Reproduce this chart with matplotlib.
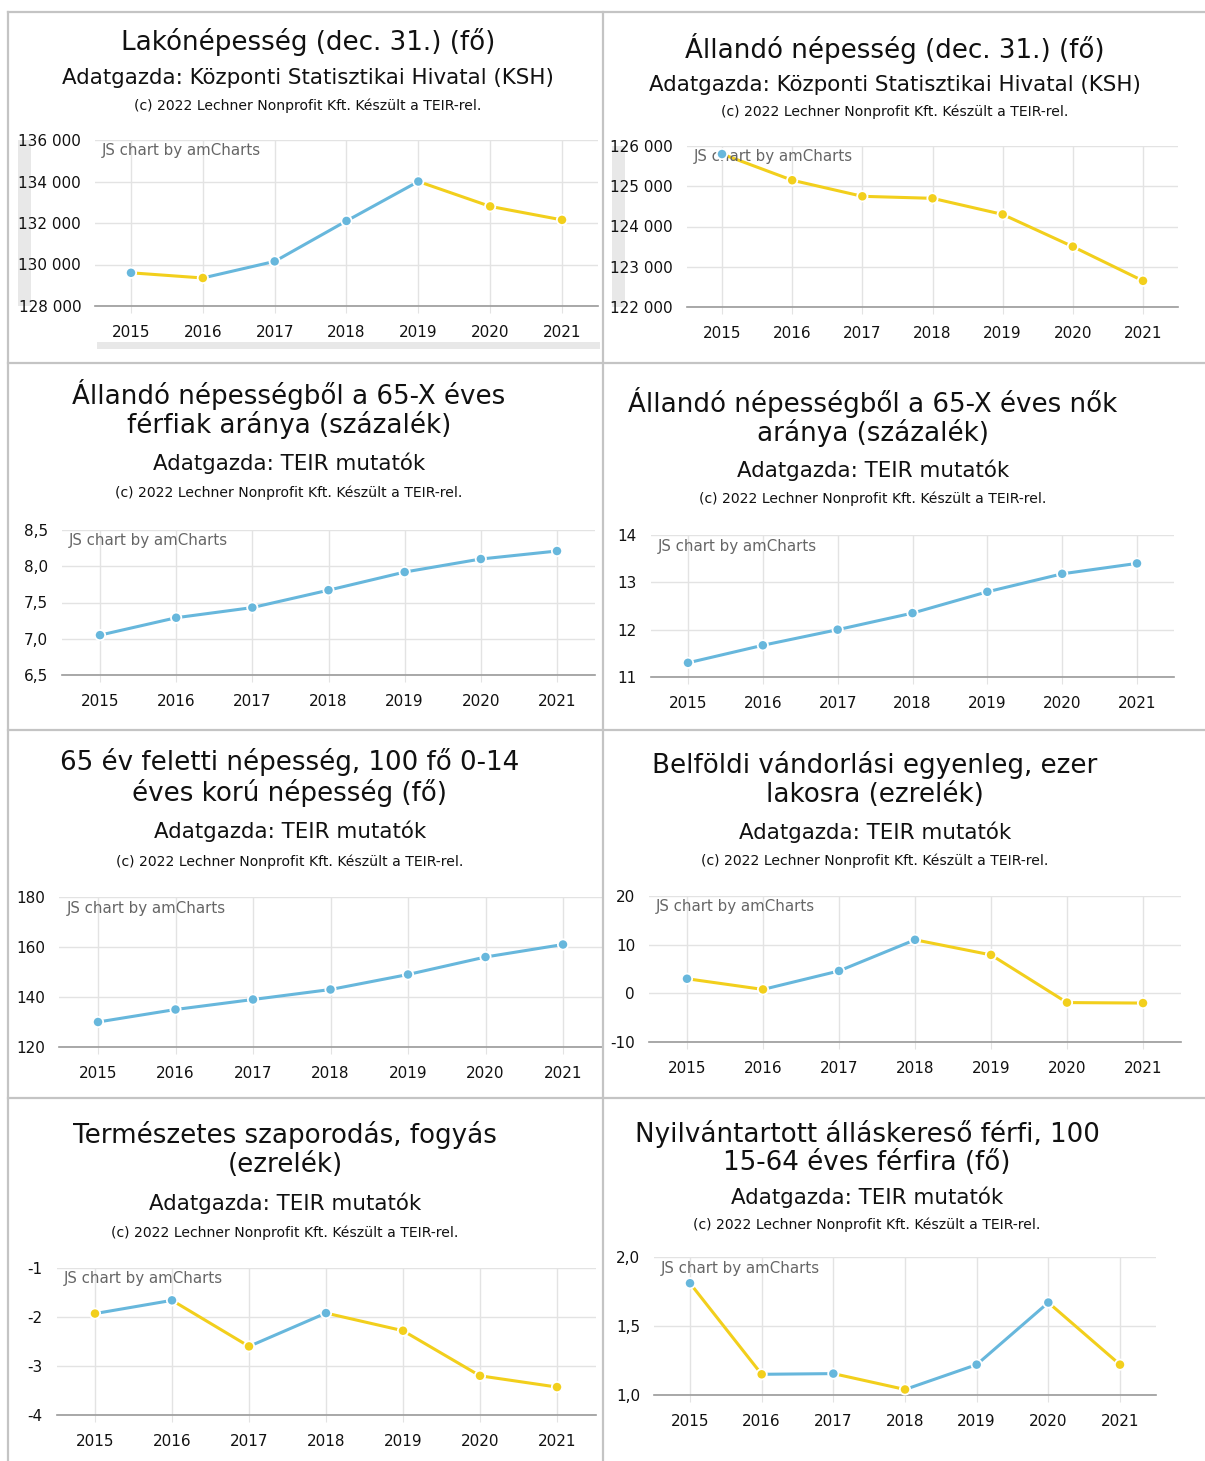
import matplotlib
matplotlib.use("Agg")
import matplotlib.pyplot as plt
from matplotlib.lines import Line2D
from matplotlib.patches import Rectangle

# Adatok
years = ["2015", "2016", "2017", "2018", "2019", "2020", "2021"]

titles = [
    ["Lakónépesség (dec. 31.) (fő)"],
    ["Állandó népesség (dec. 31.) (fő)"],
    ["Állandó népességből a 65-X éves", "férfiak aránya (százalék)"],
    ["Állandó népességből a 65-X éves nők", "aránya (százalék)"],
    ["65 év feletti népesség, 100 fő 0-14", "éves korú népesség (fő)"],
    ["Belföldi vándorlási egyenleg, ezer", "lakosra (ezrelék)"],
    ["Természetes szaporodás, fogyás", "(ezrelék)"],
    ["Nyilvántartott álláskereső férfi, 100", "15-64 éves férfira (fő)"],
]
sources = [
    "Adatgazda: Központi Statisztikai Hivatal (KSH)",
    "Adatgazda: Központi Statisztikai Hivatal (KSH)",
    "Adatgazda: TEIR mutatók",
    "Adatgazda: TEIR mutatók",
    "Adatgazda: TEIR mutatók",
    "Adatgazda: TEIR mutatók",
    "Adatgazda: TEIR mutatók",
    "Adatgazda: TEIR mutatók",
]
copyright_txt = "(c) 2022 Lechner Nonprofit Kft. Készült a TEIR-rel."

lakonepesseg = [129600, 129350, 130150, 132100, 134000, 132800, 132150]
allando_nepesseg = [125800, 125150, 124750, 124700, 124300, 123500, 122650]
ferfiak_65 = [7.05, 7.29, 7.43, 7.67, 7.92, 8.10, 8.21]
nok_65 = [11.30, 11.67, 12.00, 12.35, 12.80, 13.18, 13.40]
oregsegi_index = [130, 135, 139, 143, 149, 156, 161]
vandorlas = [3.0, 0.8, 4.6, 11.0, 7.9, -1.9, -2.0]
termeszetes = [-1.93, -1.66, -2.60, -1.92, -2.28, -3.20, -3.43]
allaskereso = [1.81, 1.15, 1.155, 1.04, 1.22, 1.67, 1.22]

series = [lakonepesseg, allando_nepesseg, ferfiak_65, nok_65,
          oregsegi_index, vandorlas, termeszetes, allaskereso]
# első pont iránya (az előző, nem látható évhez képest)
first_up = [True, True, True, True, True, True, False, True]
# y tengely: min, max, lépés, tizedesjegyek
y_axes = [
    (128000, 136000, 2000, 0),
    (122000, 126000, 1000, 0),
    (6.5, 8.5, 0.5, 1),
    (11, 14, 1, 0),
    (120, 180, 20, 0),
    (-10, 20, 10, 0),
    (-4, -1, 1, 0),
    (1.0, 2.0, 0.5, 1),
]

# Elrendezés pixelben
W, H = 1205, 1461
# x(2015), x(2021), y(max), y(min)
plot_px = [
    (131, 562, 140, 306),
    (722, 1143, 146, 307),
    (100, 557, 530, 675),
    (688, 1137, 535, 677),
    (98, 563, 897, 1047),
    (687, 1143, 896, 1042),
    (95, 557, 1268, 1415),
    (690, 1120, 1257, 1395),
]
# szöveg középpont x, címsorok y, adatgazda y, copyright y
text_px = [
    (308, [42], 78, 106),
    (895, [48], 85, 112),
    (289, [395, 425], 463, 493),
    (873, [403, 433], 470, 499),
    (290, [762, 793], 831, 862),
    (875, [765, 795], 832, 861),
    (285, [1135, 1165], 1203, 1233),
    (867, [1134, 1163], 1197, 1225),
]

BLUE = "#67b7dc"
YELLOW = "#f2cf1c"
GRID = "#e3e3e3"

plt.rcParams["font.family"] = ["DejaVu Sans"]

fig = plt.figure(figsize=(W / 100, H / 100), dpi=100)
fig.patch.set_facecolor("white")


def fx(x):
    return x / W


def fy(y):
    return 1 - y / H


def fmt(v, dec):
    if dec == 0:
        return f"{v:,.0f}".replace(",", " ")
    return f"{v:.{dec}f}".replace(".", ",")


# keretek
border = "#c4c4c4"
for (x0, y0, x1, y1) in [(8, 12, 1205, 12), (8, 12, 8, 1461), (603, 12, 603, 1461),
                         (8, 363, 1205, 363), (8, 730, 1205, 730), (8, 1098, 1205, 1098)]:
    fig.add_artist(Line2D([fx(x0), fx(x1)], [fy(y0), fy(y1)], color=border, lw=1.6))

# amCharts görgetősávok (a tengelyek mögött)
for (x0, y0, x1, y1) in [(18, 140, 31, 306), (97, 342, 600, 349), (612, 146, 625, 307)]:
    fig.add_artist(Rectangle((fx(x0), fy(y1)), fx(x1) - fx(x0), fy(y0) - fy(y1),
                             transform=fig.transFigure, color="#e8e8e8", lw=0, zorder=-1))

for k, vals in enumerate(series):
    cx, tys, sy, cy = text_px[k]
    for line, ty in zip(titles[k], tys):
        fig.text(fx(cx), fy(ty), line, ha="center", va="center", fontsize=18.8, color="#111111")
    fig.text(fx(cx), fy(sy), sources[k], ha="center", va="center", fontsize=15.4, color="#111111")
    fig.text(fx(cx), fy(cy), copyright_txt, ha="center", va="center", fontsize=10.1, color="#111111")

    x15, x21, ytop, ybot = plot_px[k]
    step = (x21 - x15) / 6
    left = x15 - step / 2
    right = x21 + step / 2
    ax = fig.add_axes([fx(left), fy(ybot), fx(right) - fx(left), fy(ytop) - fy(ybot)])
    ax.patch.set_alpha(0)

    ymin, ymax, ystep, dec = y_axes[k]
    nt = int(round((ymax - ymin) / ystep))
    yt = [ymin + i * ystep for i in range(nt + 1)]
    ax.set_ylim(ymin, ymax)
    ax.set_xlim(-0.5, 6.5)
    ax.set_yticks(yt)
    ax.set_yticklabels([fmt(v, dec) for v in yt])
    ax.set_xticks(range(len(years)))
    ax.set_xticklabels(years)
    ax.grid(True, color=GRID, lw=1)
    ax.set_axisbelow(True)
    for s in ["top", "right", "left"]:
        ax.spines[s].set_visible(False)
    ax.spines["bottom"].set_color("#9a9a9a")
    ax.spines["bottom"].set_linewidth(1.2)
    ax.tick_params(axis="y", length=0, pad=10, labelsize=11, labelcolor="#111111")
    ax.tick_params(axis="x", length=5, color=GRID, pad=9, labelsize=11, labelcolor="#111111")

    # irány szerinti színezés
    cols = [BLUE if first_up[k] else YELLOW]
    for i in range(1, len(vals)):
        cols.append(BLUE if vals[i] >= vals[i - 1] else YELLOW)
    for i in range(1, len(vals)):
        ax.plot([i - 1, i], [vals[i - 1], vals[i]], color=cols[i], lw=2.2,
                solid_capstyle="butt", zorder=3, clip_on=False)
    ax.scatter(range(len(vals)), vals, s=55, c=cols, edgecolors="white",
               linewidths=1.3, zorder=4, clip_on=False)

    ax.text(7 / (right - left), 1 - 11 / (ybot - ytop), "JS chart by amCharts",
            transform=ax.transAxes, ha="left", va="center", fontsize=10.8, color="#666666")

fig.savefig("out.png", dpi=100, facecolor="white")
